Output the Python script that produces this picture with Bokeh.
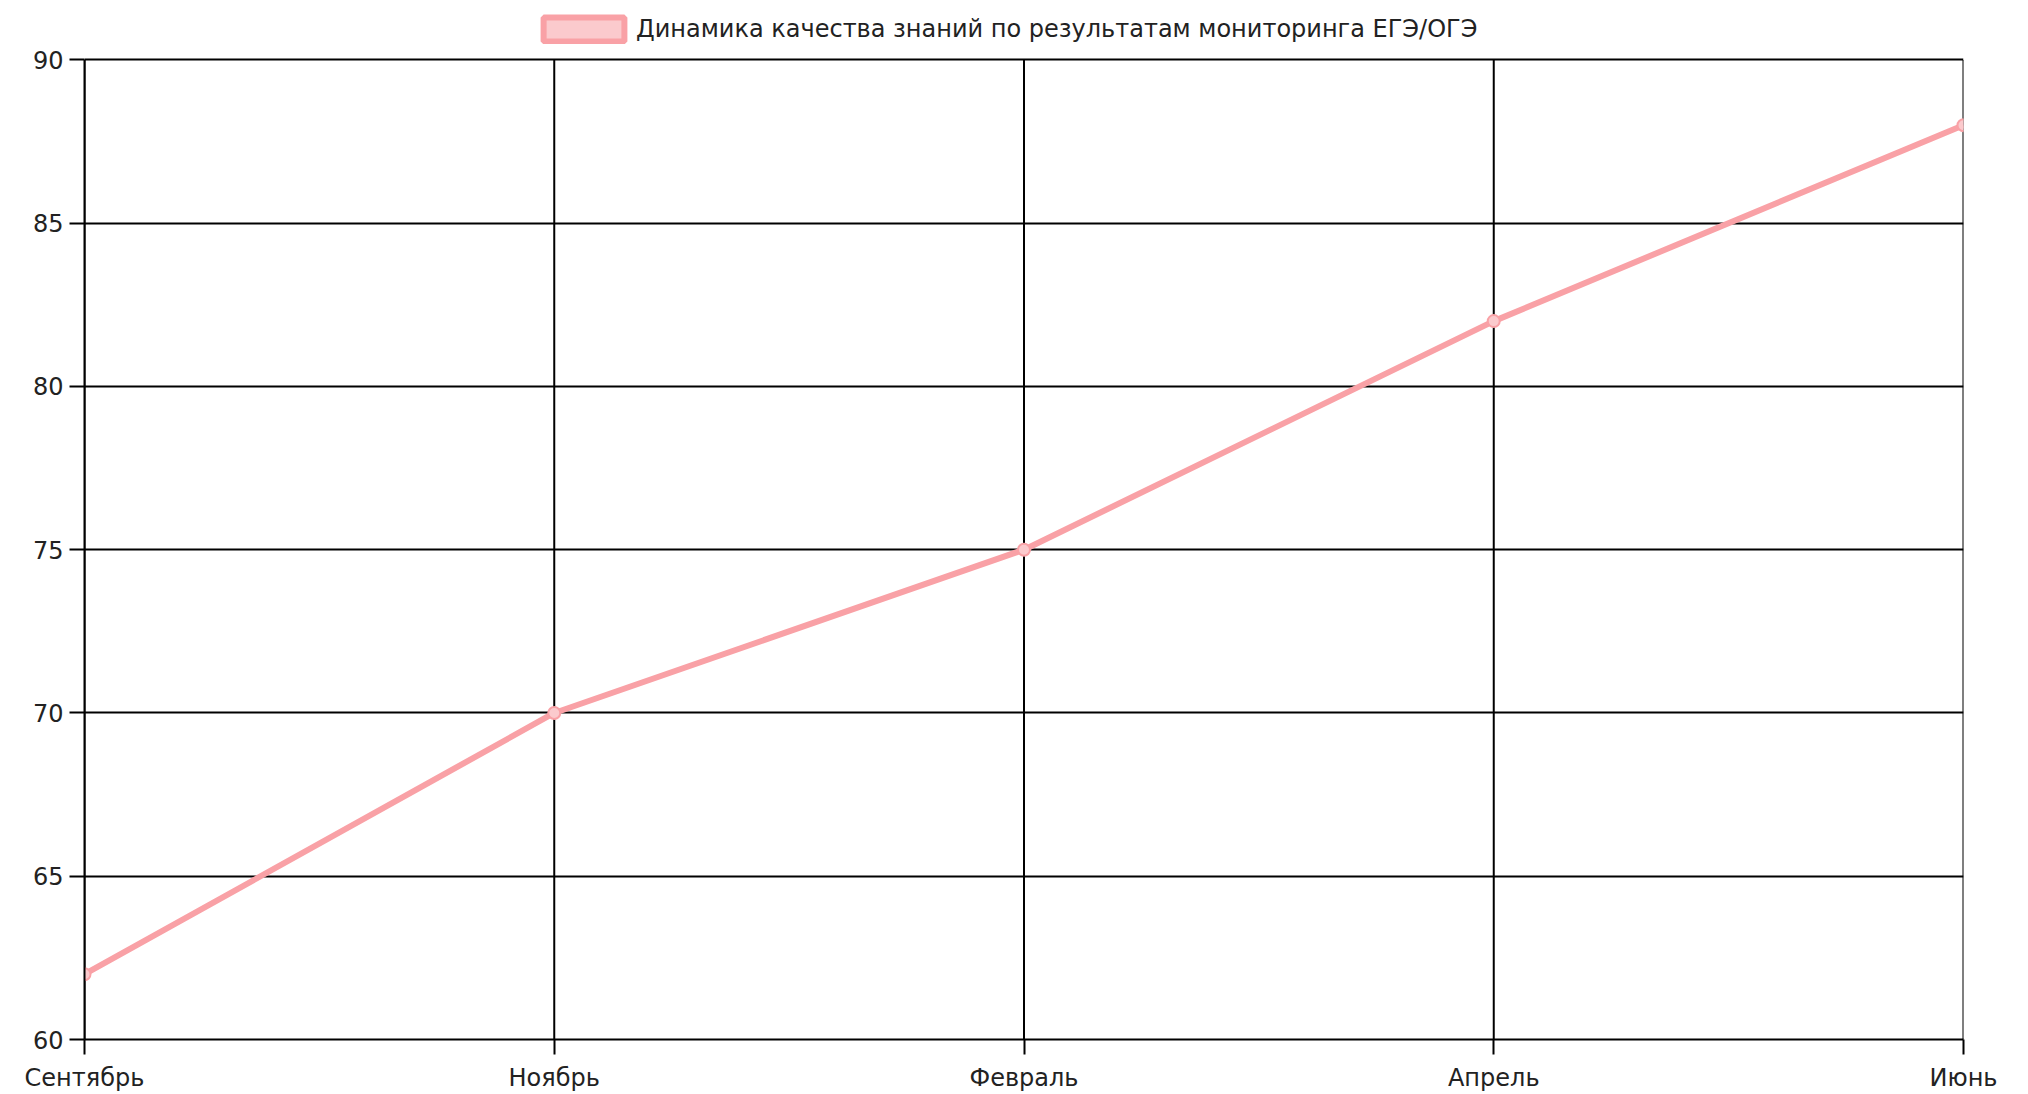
from bokeh.plotting import figure
from bokeh.models import ColumnDataSource, Legend, LegendItem, FixedTicker, Range1d
from bokeh.embed import file_html
from bokeh.resources import INLINE

months = ["Сентябрь", "Ноябрь", "Февраль", "Апрель", "Июнь"]
quality = [62, 70, 75, 82, 88]
y_ticks = [60, 65, 70, 75, 80, 85, 90]
series_label = "Динамика качества знаний по результатам мониторинга ЕГЭ/ОГЭ"

LINE = "#f9a1a6"
FILL = "#fbcacd"
FONT = "DejaVu Sans"

xs = list(range(len(months)))
y_min, y_max = y_ticks[0], y_ticks[-1]
src = ColumnDataSource(dict(x=xs, y=quality))
grid_src = ColumnDataSource(dict(x=xs, y0=[y_min] * len(xs), y1=[y_max] * len(xs)))

# frame extends up to the canvas top so the legend can sit above the 90 line
top_pad = (y_max - y_min) * 59.5 / 981.5

p = figure(width=2028, height=1094, output_backend="svg", toolbar_location=None,
           x_range=Range1d(0, len(months) - 1), y_range=Range1d(y_min, y_max + top_pad),
           min_border_left=84, min_border_right=65, min_border_top=0, min_border_bottom=50)
p.title = None
p.outline_line_color = None
p.background_fill_color = "white"

# vertical grid lines (bounded between the lowest and highest tick)
p.segment(x0="x", y0="y0", x1="x", y1="y1", source=grid_src, line_color="black", line_width=2)

p.line("x", "y", source=src, line_color=LINE, line_width=6)
p.scatter("x", "y", source=src, size=12, fill_color=FILL, line_color=LINE, line_width=2)

# legend swatch (area renderer with no drawable data)
nan = float("nan")
sw = p.quad(left=[nan], right=[nan], top=[nan], bottom=[nan],
            fill_color=FILL, line_color=LINE, line_width=6)

for ax in (p.xaxis[0], p.yaxis[0]):
    ax.axis_line_color = "black"
    ax.axis_line_width = 2
    ax.major_tick_line_color = "black"
    ax.major_tick_line_width = 2
    ax.major_tick_out = 15
    ax.major_tick_in = 0
    ax.minor_tick_line_color = None
    ax.major_label_text_font = FONT
    ax.major_label_text_font_size = "24px"
    ax.major_label_text_color = "#222222"

p.xaxis.ticker = FixedTicker(ticks=xs)
p.xaxis.major_label_overrides = {i: m for i, m in enumerate(months)}
p.xaxis.major_label_standoff = 9
p.yaxis.ticker = FixedTicker(ticks=y_ticks)
p.yaxis.bounds = (y_min, y_max)
p.yaxis.major_label_standoff = 6

p.xgrid.visible = False
p.ygrid.ticker = FixedTicker(ticks=y_ticks)
p.ygrid.grid_line_color = "black"
p.ygrid.grid_line_width = 2
p.ygrid.grid_line_alpha = 1.0

legend = Legend(items=[LegendItem(label=series_label, renderers=[sw])],
                location=(449, 995), orientation="horizontal",
                glyph_width=101, glyph_height=30, label_standoff=2,
                padding=0, margin=0, border_line_color=None, background_fill_alpha=0,
                label_text_font=FONT, label_text_font_size="24px", label_text_color="#222222")
p.add_layout(legend, "center")

open("out.html", "w").write(file_html(p, INLINE))
